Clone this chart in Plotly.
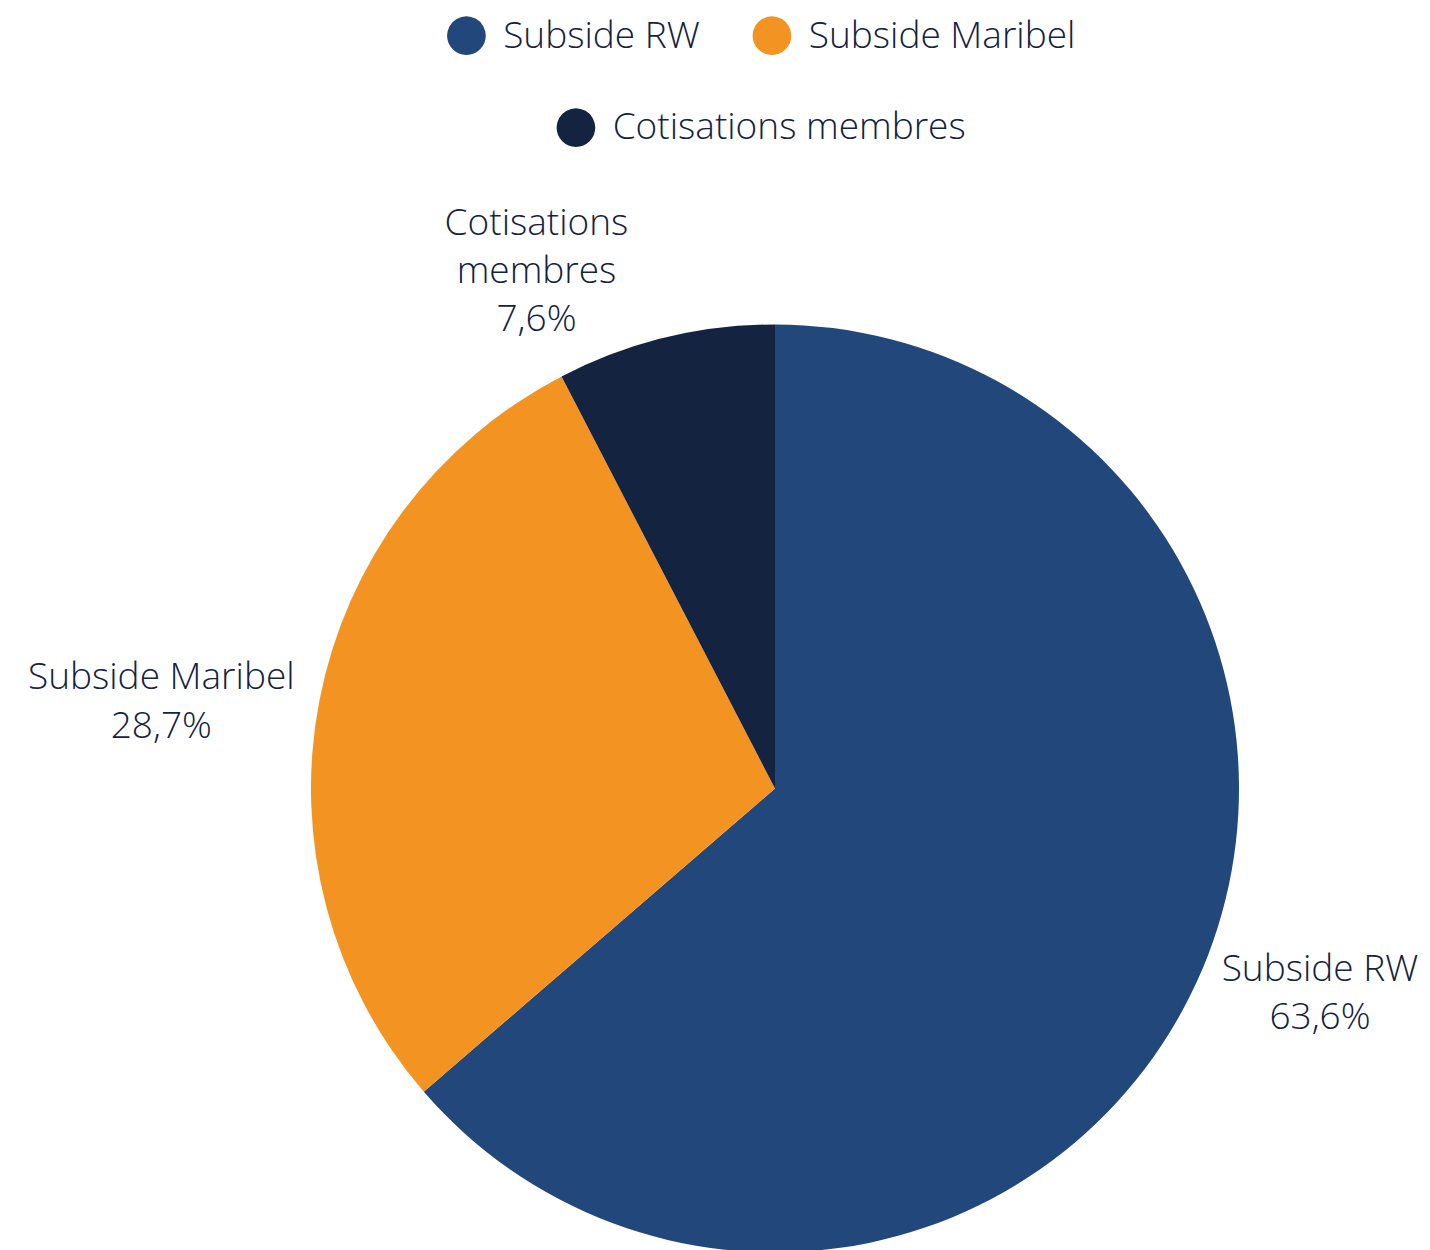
import plotly.graph_objects as go

categories = ["Subside RW", "Subside Maribel", "Cotisations membres"]
slice_labels = ["Subside RW", "Subside Maribel", "Cotisations<br>membres"]
values = [63.6, 28.7, 7.6]
colors = ["#22477a", "#f39321", "#14233f"]
text_color = "#14233f"
FONT = "Open Sans"

pct_text = [f"{v:.1f}".replace(".", ",") + "%" for v in values]

fig = go.Figure()
fig.add_trace(go.Pie(
    labels=categories,
    values=values,
    customdata=slice_labels,
    text=pct_text,
    texttemplate="%{customdata}<br>%{text}",
    textposition="outside",
    textfont=dict(family=FONT, size=37, color=text_color, weight=300),
    marker=dict(colors=colors, line=dict(width=0)),
    sort=False,
    direction="clockwise",
    rotation=0,
    showlegend=False,
    hoverinfo="label+percent",
))

legend_assign = ["legend", "legend", "legend2"]
for name, col, lg in zip(categories, colors, legend_assign):
    fig.add_trace(go.Scatter(
        x=[None], y=[None], mode="markers",
        marker=dict(color="rgba(0,0,0,0)", size=2),
        name=(f'<sub><sub><span style="font-family:\'DejaVu Sans\';font-size:90px;'
              f'color:{col}">●</span></sub></sub> {name}'),
        legend=lg, hoverinfo="skip",
    ))

legend_common = dict(
    orientation="h",
    font=dict(family=FONT, size=37, color=text_color, weight=300),
    xref="container", yref="container",
    xanchor="center", yanchor="middle",
    bgcolor="rgba(0,0,0,0)",
    itemwidth=30,
)
fig.update_layout(
    width=1430, height=1250,
    margin=dict(l=116, r=0, t=316, b=0),
    paper_bgcolor="white", plot_bgcolor="white",
    xaxis=dict(visible=False), yaxis=dict(visible=False),
    legend=dict(x=0.512, y=0.979, **legend_common),
    legend2=dict(x=0.512, y=0.906, **legend_common),
    showlegend=True,
)
fig.write_html("out.html")
